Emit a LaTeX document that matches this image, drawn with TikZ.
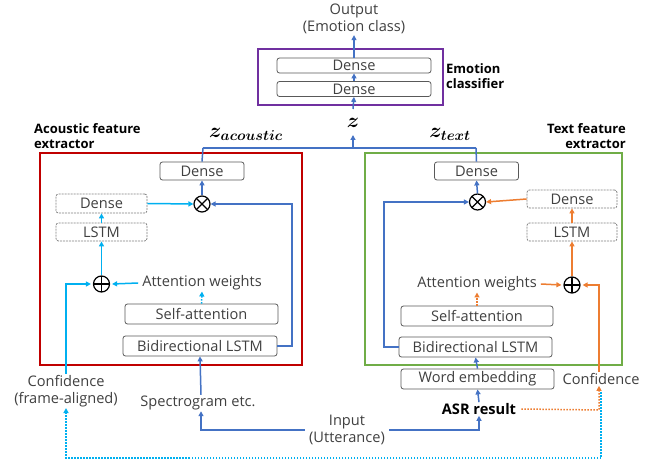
\documentclass[tikz,border=0pt]{standalone}
\usepackage{fontspec}
\setmainfont{Open Sans}
\usepackage{bm}
\usetikzlibrary{arrows.meta}

\definecolor{cblue}{HTML}{4472C4}
\definecolor{ccyan}{HTML}{00B0F0}
\definecolor{corange}{HTML}{ED7D31}
\definecolor{cred}{HTML}{C00000}
\definecolor{cgreen}{HTML}{70AD47}
\definecolor{cpurple}{HTML}{7030A0}
\definecolor{ctext}{HTML}{404040}
\definecolor{cborder}{HTML}{595959}

\tikzset{
  layer/.style={draw=cborder, rounded corners=2.5pt, line width=0.8pt,
    minimum height=18pt, inner sep=0pt, text=ctext},
  dlayer/.style={layer, draw=gray, dash pattern=on 2pt off 1pt},
  frame/.style={line width=1.6pt},
  lbl/.style={inner sep=1pt, align=center, text=ctext},
  heading/.style={font=\fontsize{13}{15.5}\selectfont\bfseries, text=black, inner sep=0pt},
  link/.style={line width=1.5pt, -{Triangle[length=5pt,width=5pt]}},
  plainlink/.style={line width=1.5pt},
  shortlink/.style={link, dash pattern=on 1.5pt off 1.5pt},
  dotlink/.style={line width=1.5pt, dash pattern=on 1.5pt off 1.5pt, -{Triangle[length=5pt,width=5pt]}},
  zlabel/.style={inner sep=0pt, font=\fontsize{20}{20}\selectfont},
  opx/.style={circle, draw=black, line width=1.2pt, minimum size=16pt, inner sep=0pt,
    path picture={\draw[line width=1.2pt]
      (path picture bounding box.north west)--(path picture bounding box.south east)
      (path picture bounding box.north east)--(path picture bounding box.south west);}},
  opp/.style={circle, draw=black, line width=1.2pt, minimum size=16pt, inner sep=0pt,
    path picture={\draw[line width=1.2pt]
      (path picture bounding box.north)--(path picture bounding box.south)
      (path picture bounding box.east)--(path picture bounding box.west);}},
}

\begin{document}
\begin{tikzpicture}[x=1pt, y=-1pt, font=\fontsize{14.6}{17}\selectfont]
\useasboundingbox[fill=white] (0,0) rectangle (662,465);

% ---------- emotion classifier ----------
\draw[frame, draw=cpurple] (258,49) rectangle (443,105);
\node[layer, minimum width=154pt, minimum height=15pt] (cD1) at (354,65.5) {Dense};
\node[layer, minimum width=154pt, minimum height=15pt] (cD2) at (354,89) {Dense};
\node[lbl, align=center] (out) at (354,19) {Output\\(Emotion class)};
\node[heading, align=left, anchor=west] (clsname) at (446,76) {Emotion\\classifier};
\coordinate (zin) at (353,109);
\draw[link, cblue] (zin) -- (cD2.south);
\draw[link, cblue] (cD2.north) -- (cD1.south);
\draw[link, cblue] (cD1.north) -- (out.south);

% ---------- feature vectors ----------
\node[zlabel] (z) at (353,123) {$\bm{z}$};
\node[zlabel] (za) at (246,134) {$\bm{z_{acoustic}}$};
\node[zlabel] (zt) at (450,134) {$\bm{z_{text}}$};
\coordinate (zl) at (203,148);
\coordinate (zr) at (476,148);
\coordinate (zm) at (353,148);
\coordinate (ztip) at (353,135);
\draw[plainlink, cblue] (zl) -- (zr);
\draw[link, cblue] (zm) -- (ztip);

% ---------- acoustic feature extractor ----------
\draw[frame, draw=cred] (40,153) rectangle (302,365);
\node[heading, align=left, anchor=west] (ahead) at (34,136) {Acoustic feature\\extractor};

\node[layer, minimum width=84pt] (aDense) at (202,171) {Dense};
\node[opx] (aMul) at (202,204) {};
\node[dlayer, minimum width=91pt, minimum height=19pt] (aDenseD) at (101.5,203.5) {Dense};
\node[dlayer, minimum width=91pt] (aLSTM) at (101.5,232) {LSTM};
\node[opp] (aPlus) at (101.5,284) {};
\node[lbl] (aAttW) at (202,283) {Attention weights};
\node[layer, minimum width=153pt, minimum height=20pt] (aSelf) at (201.5,314) {Self-attention};
\node[layer, minimum width=154pt, minimum height=20pt] (aBi) at (200,346) {Bidirectional LSTM};
\node[lbl] (aConf) at (66,391) {Confidence\\(frame-aligned)};
\node[lbl] (aSpec) at (198,403) {Spectrogram etc.};

\draw[plainlink, cblue] (zl) -- (aDense.north);
\draw[link, cblue] (aMul.north) -- (aDense.south);
\draw[link, cblue] (aBi.east) -- (292,346) -- (292,204) -- (aMul.east);
\draw[link, cblue] (aSpec.north) ++(3,0) -- (aBi.south);
\draw[link, ccyan] (aDenseD.east) -- (aMul.west);
\draw[link, ccyan] (aLSTM.north) -- (aDenseD.south);
\draw[link, ccyan] (aPlus.north) -- (aLSTM.south);
\draw[link, ccyan] ([xshift=-3pt]aAttW.west) -- ([xshift=2pt]aPlus.east);
\draw[shortlink, ccyan] (aSelf.north) -- (aAttW.south);
\draw[link, ccyan] (aConf.north) -- (66,284) -- ([xshift=-2pt]aPlus.west);

% ---------- text feature extractor ----------
\draw[frame, draw=cgreen] (365,153) rectangle (622,365);
\node[heading, align=right, anchor=east] (thead) at (626,136) {Text feature\\extractor};

\node[layer, minimum width=84pt] (tDense) at (476.5,171) {Dense};
\node[opx] (tMul) at (477.5,202) {};
\node[dlayer, minimum width=90pt] (tDenseD) at (572,199) {Dense};
\node[dlayer, minimum width=90pt] (tLSTM) at (572,232) {LSTM};
\node[opp] (tPlus) at (572,285) {};
\node[lbl] (tAttW) at (477,284) {Attention weights};
\node[layer, minimum width=152pt, minimum height=20pt] (tSelf) at (477,316) {Self-attention};
\node[layer, minimum width=153pt, minimum height=20pt] (tBi) at (475.5,347) {Bidirectional LSTM};
\node[layer, minimum width=153pt, minimum height=20pt] (wemb) at (477.5,379) {Word embedding};
\node[lbl] (tConf) at (601,379) {Confidence};
\node[lbl, font=\fontsize{14.6}{17}\selectfont\bfseries, text=black] (asr) at (479,409) {ASR result};

\draw[plainlink, cblue] (zr) -- (tDense.north);
\draw[link, cblue] (tMul.north) -- (tDense.south);
\draw[link, cblue] (tBi.west) -- (384,347) -- (384,202) -- (tMul.west);
\draw[link, cblue] (wemb.north) -- (tBi.south);
\draw[link, cblue] (asr.north) -- (wemb.south);
\draw[link, corange] (tDenseD.west) -- (tMul.east);
\draw[link, corange] (tLSTM.north) -- (tDenseD.south);
\draw[link, corange] (tPlus.north) -- (tLSTM.south);
\draw[link, corange] ([xshift=3pt]tAttW.east) -- ([xshift=-2pt]tPlus.west);
\draw[shortlink, corange] (tSelf.north) -- (tAttW.south);
\draw[link, corange] ([xshift=-2pt]tConf.north) -- (599,285) -- ([xshift=2pt]tPlus.east);

% ---------- input ----------
\node[lbl] (inp) at (347,430) {Input\\(Utterance)};
\draw[link, cblue] (inp.west) ++(-3,0) -- (201,430) -- ([xshift=3pt]aSpec.south);
\draw[link, cblue] (inp.east) ++(3,0) -- (479,430) -- (asr.south);

% ---------- confidence routes ----------
\draw[dotlink, corange] (asr.east) ++(4,0) -- (599,410) -- ([xshift=-2pt]tConf.south);
\coordinate (cstart) at (601,392);
\draw[dotlink, ccyan] (cstart) -- (601,458) -- (66,458) -- (aConf.south);
\end{tikzpicture}
\end{document}
